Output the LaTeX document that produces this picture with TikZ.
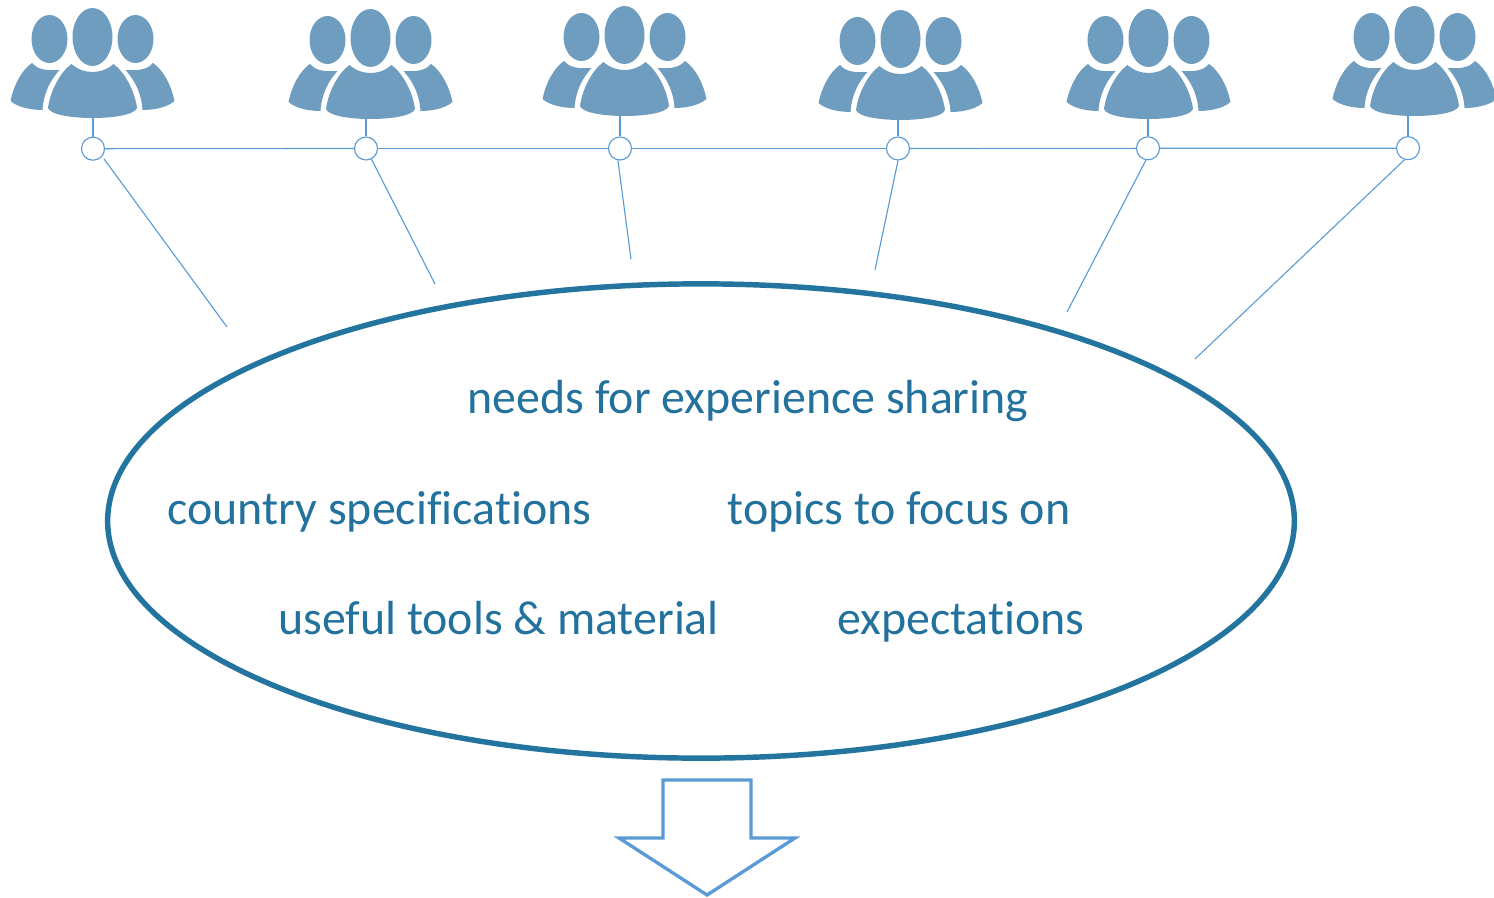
\documentclass[tikz,border=0pt]{standalone}
\usepackage{fontspec}
\usetikzlibrary{shapes.geometric}
\setmainfont[Ligatures=NoCommon]{Carlito}
\definecolor{iconblue}{HTML}{6F9DC0}
\definecolor{lineblue}{HTML}{5B9BD5}
\definecolor{ringblue}{HTML}{23759F}
\definecolor{textblue}{HTML}{23729E}
\tikzset{
  x=0.01cm,y=-0.01cm,
  hub/.style={circle,draw=lineblue,fill=white,line width=0.32pt,inner sep=0pt,minimum size=0.23cm},
  link/.style={draw=lineblue,line width=0.32pt},
  lbl/.style={text=textblue,font=\fontsize{13.62pt}{16pt}\selectfont,inner sep=0pt,anchor=base west},
  people/.pic={
    \fill[iconblue] (0,29) ellipse [x radius=20,y radius=29];
    \fill[iconblue] (-43,31) ellipse [x radius=18,y radius=24];
    \fill[iconblue] (43,31) ellipse [x radius=18,y radius=24];
    \fill[iconblue] (-21,56) .. controls (-14,62) and (-7,64) .. (0,64) .. controls (7,64) and (14,62) .. (21,56)
      .. controls (32,64) and (42,82) .. (44.5,100) .. controls (42,107) and (20,110) .. (0,110)
      .. controls (-20,110) and (-42,107) .. (-44.5,100) .. controls (-42,82) and (-32,64) .. (-21,56) -- cycle;
    \fill[iconblue] (-60.5,55) .. controls (-55,61) and (-48,63) .. (-33,62)
      .. controls (-42,72) and (-49,85) .. (-50,102) .. controls (-60,102) and (-74,100) .. (-82,93)
      .. controls (-79,78) and (-71,62) .. (-60.5,55) -- cycle;
    \fill[iconblue] (60.5,55) .. controls (55,61) and (48,63) .. (33,62)
      .. controls (42,72) and (49,85) .. (50,102) .. controls (60,102) and (74,100) .. (82,93)
      .. controls (79,78) and (71,62) .. (60.5,55) -- cycle;
  }
}
\begin{document}
\begin{tikzpicture}
\useasboundingbox (0,0) rectangle (1494,897);
\clip (0,0) rectangle (1494,897);
\pic at (92.5,8) {people};
\pic at (370.5,9) {people};
\pic at (624.5,6) {people};
\pic at (900.5,10) {people};
\pic at (1148.5,9) {people};
\pic at (1414.5,6) {people};
\node[hub] (h1) at (93,148.7) {};
\node[hub] (h2) at (366,148.5) {};
\node[hub] (h3) at (620,148.5) {};
\node[hub] (h4) at (898,148.5) {};
\node[hub] (h5) at (1148,148.3) {};
\node[hub] (h6) at (1408,148.2) {};
\coordinate (s1) at (93,118);
\coordinate (s2) at (366,119);
\coordinate (s3) at (620,116);
\coordinate (s4) at (898,120);
\coordinate (s5) at (1148,119);
\coordinate (s6) at (1408,116);
\foreach \i in {1,...,6} \draw[link] (s\i) -- (h\i);
\draw[link] (h1) -- (h2);
\draw[link] (h2) -- (h3);
\draw[link] (h3) -- (h4);
\draw[link] (h4) -- (h5);
\draw[link] (h5) -- (h6);
\coordinate (e1) at (227,327);
\coordinate (e2) at (435,284);
\coordinate (e3) at (631,259);
\coordinate (e4) at (875,270);
\coordinate (e5) at (1067,312);
\coordinate (e6) at (1195,359);
\draw[link,shorten <=0.03cm] (h1.-40) -- (e1);
\draw[link] (h2.-63) -- (e2);
\draw[link] (h3.-100) -- (e3);
\draw[link] (h4.-90) -- (e4);
\draw[link] (h5.-100) -- (e5);
\draw[link] (h6.-107) -- (e6);
\node[draw=ringblue,line width=1.55pt,ellipse,minimum width=11.86cm,minimum height=4.74cm,inner sep=0pt] (oval) at (701,521) {};
\node[lbl] (t1) at (467,413.6) {needs for experience sharing};
\node[lbl] (t2) at (167,524.8) {country specifications};
\node[lbl] (t3) at (727,524.8) {topics to focus on};
\node[lbl] (t4) at (277.5,634.6) {useful tools \& material};
\node[lbl] (t5) at (836.5,634.6) {expectations};
\draw[lineblue,line width=0.95pt,fill=white,line join=miter] (663,780) -- (751,780) -- (751,838) -- (795,838) -- (707,895) -- (619,838) -- (663,838) -- cycle;
\end{tikzpicture}
\end{document}
